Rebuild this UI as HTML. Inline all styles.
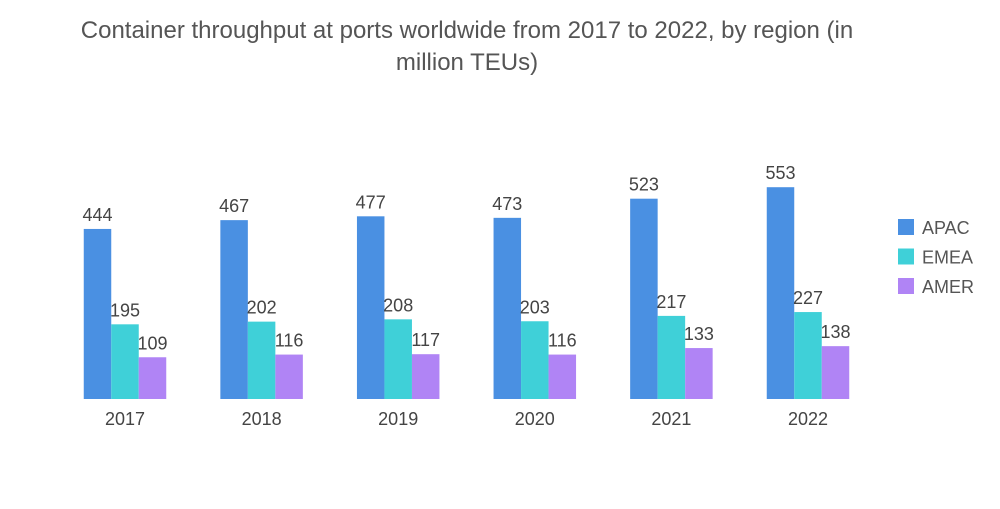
<!DOCTYPE html>
<html><head><meta charset="utf-8"><style>
body{margin:0;background:#fff;font-family:"Liberation Sans",sans-serif}
</style></head><body>
<svg id="chart" width="1000" height="504">
<text x="467" y="38" text-anchor="middle" font-size="24" fill="#555">Container throughput at ports worldwide from 2017 to 2022, by region (in</text>
<text x="467" y="70" text-anchor="middle" font-size="24" fill="#555">million TEUs)</text>
<g id="bars"></g>
<g id="legend"></g>
</svg>
<script>
const categories=["2017","2018","2019","2020","2021","2022"];
const seriesNames=["APAC","EMEA","AMER"];
const apac=[444,467,477,473,523,553];
const emea=[195,202,208,203,217,227];
const amer=[109,116,117,116,133,138];
const colors=["#4a90e2","#3fd0d8","#b084f5"];
const series=[apac,emea,amer];
const base=399, scale=0.383, c0=125, step=136.6, bw=27.5;
const y=v=>base-v*scale;
const ns="http://www.w3.org/2000/svg";
const g=document.getElementById('bars');
categories.forEach((cat,i)=>{
  const cx=c0+i*step, start=cx-bw*1.5;
  series.forEach((s,j)=>{
    const r=document.createElementNS(ns,'rect');
    r.setAttribute('x',start+j*bw);r.setAttribute('y',y(s[i]));
    r.setAttribute('width',bw);r.setAttribute('height',s[i]*scale);
    r.setAttribute('fill',colors[j]);
    
    
    g.appendChild(r);
    const t=document.createElementNS(ns,'text');
    t.setAttribute('x',start+j*bw+bw/2);t.setAttribute('y',y(s[i])-8);
    t.setAttribute('text-anchor','middle');t.setAttribute('font-size','18');t.setAttribute('fill','#444');
    t.textContent=s[i];
    
    
    g.appendChild(t);
  });
  const t=document.createElementNS(ns,'text');
  t.setAttribute('x',cx);t.setAttribute('y',425);t.setAttribute('text-anchor','middle');
  t.setAttribute('font-size','18');t.setAttribute('fill','#444');t.textContent=cat;
  
  
  g.appendChild(t);
});
const lg=document.getElementById('legend');
seriesNames.forEach((n,j)=>{
  const yy=219+j*29.5;
  const r=document.createElementNS(ns,'rect');
  r.setAttribute('x',898);r.setAttribute('y',yy);r.setAttribute('width',16);r.setAttribute('height',16);r.setAttribute('fill',colors[j]);
  
  
  lg.appendChild(r);
  const t=document.createElementNS(ns,'text');
  t.setAttribute('x',922);t.setAttribute('y',yy+15);t.setAttribute('font-size','18');t.setAttribute('fill','#555');t.textContent=n;
  
  
  lg.appendChild(t);
});
</script>
</body></html>
